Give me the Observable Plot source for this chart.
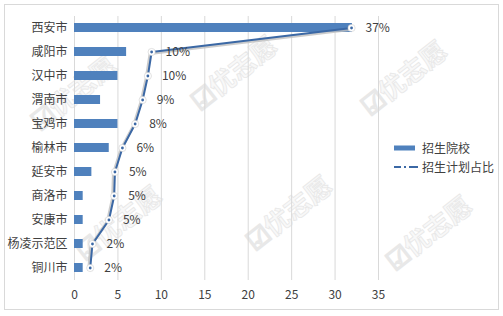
<!DOCTYPE html>
<html><head><meta charset="utf-8">
<script src="https://cdn.jsdelivr.net/npm/d3@7"></script>
<script src="https://cdn.jsdelivr.net/npm/@observablehq/plot@0.6"></script>
<style>
body{margin:0;background:#fff;}
#wrap{position:relative;width:503px;height:316px;font-family:"Noto Sans CJK SC","Microsoft YaHei",sans-serif;overflow:hidden;background:#fff}
#frame{position:absolute;left:4px;top:4px;width:495px;height:306px;border:1px solid #d9d9d9;box-sizing:border-box}
#wm{position:absolute;left:0;top:0}
#chart{position:absolute;left:0;top:0}
#legend{position:absolute;left:394px;top:138px;font-size:12px;color:#404040}
.li{display:flex;align-items:center;height:19px}
.li svg{margin-right:4px}
</style></head>
<body><div id="wrap"><div id="frame"></div><svg id="wm" width="503" height="316"></svg><div id="chart"></div>
<div id="legend">
 <div class="li"><svg width="24" height="8"><rect x="0" y="1.5" width="21" height="5" fill="#4f81bd"/></svg><span>招生院校</span></div>
 <div class="li"><svg width="24" height="8"><line x1="0" x2="24" y1="4" y2="4" stroke="#3b68a5" stroke-width="2" stroke-dasharray="7,3,2,3,9"/></svg><span>招生计划占比</span></div>
</div></div>
<script>
const cities = ["西安市","咸阳市","汉中市","渭南市","宝鸡市","榆林市","延安市","商洛市","安康市","杨凌示范区","铜川市"];
const schools = [32, 6, 5, 3, 5, 4, 2, 1, 1, 1, 1];
const planShare = [37.0, 10.3, 9.8, 9.1, 8.1, 6.4, 5.4, 5.3, 4.6, 2.4, 2.1];
const xTicks = [0, 5, 10, 15, 20, 25, 30, 35];
const shareAxisMax = 40.6; // hidden secondary axis max (%)

const data = cities.map((c, i) => ({city: c, n: schools[i], pct: planShare[i]}));
const px = d => d.pct / shareAxisMax * 35;

// faint watermarks, kept fully inside the picture
const wm = d3.select("#wm");
const wmPos = [[75,95],[235,75],[405,80],[120,225],[290,215],[430,235]];
wmPos.forEach(([x,y]) => {
  wm.append("text").attr("x", x).attr("y", y).attr("transform", `rotate(-38 ${x} ${y})`)
    .attr("text-anchor","middle").attr("dominant-baseline","middle").attr("font-size", 26).attr("font-weight","bold")
    .attr("font-family","Noto Sans CJK SC").attr("fill","#f8f8f8").attr("stroke","#e8e8e8").attr("stroke-width",0.8)
    .text("☑优志愿");
});

const chart = Plot.plot({
  width: 503, height: 316,
  marginLeft: 74, marginRight: 125, marginTop: 16, marginBottom: 36,
  style: {background: "transparent", fontSize: "12px", fontFamily: "Noto Sans CJK SC, sans-serif", color: "#404040"},
  x: {domain: [0, 35], ticks: xTicks, tickSize: 0, tickPadding: 10, label: null, grid: false},
  y: {domain: cities, paddingInner: 0.62, paddingOuter: 0.31, tickSize: 0, tickPadding: 7, label: null},
  marks: [
    Plot.gridX(xTicks, {stroke: "#d9d9d9", strokeOpacity: 1}),
    Plot.barX(data, {x: "n", y: "city", fill: "#4f81bd"}),
    Plot.line(data, {x: px, y: "city", stroke: "#bfbfbf", strokeWidth: 3, dx: -1.5, dy: 1.5, strokeOpacity: 0.8}),
    Plot.line(data, {x: px, y: "city", stroke: "#3b68a5", strokeWidth: 2}),
    Plot.dot(data, {x: px, y: "city", r: 3.6, fill: "white", stroke: "#cfcfcf", strokeWidth: 0.6}),
    Plot.dot(data, {x: px, y: "city", r: 1.4, fill: "#3b68a5"}),
    Plot.text(data, {x: px, y: "city", text: d => Math.round(d.pct) + "%", dx: 14, textAnchor: "start", fill: "#404040", fontSize: 12})
  ]
});
document.getElementById("chart").appendChild(chart);
</script></body></html>
